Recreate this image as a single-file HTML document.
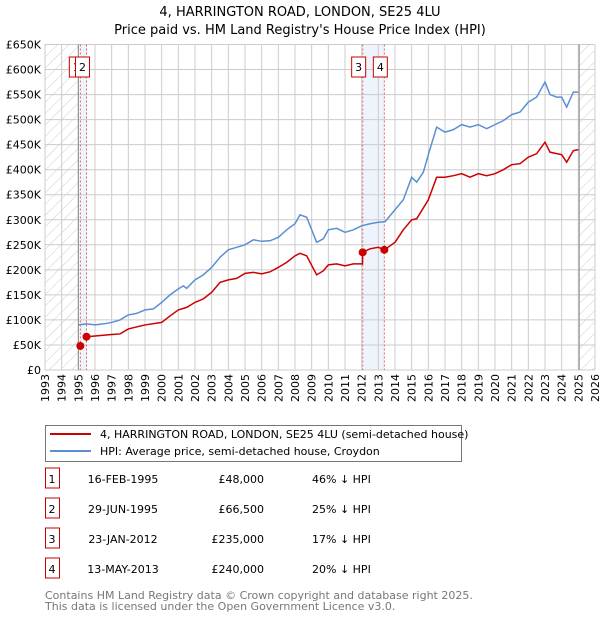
<!DOCTYPE html>
<html><head><meta charset="utf-8"><style>
body{margin:0;background:#fff;font-family:"DejaVu Sans","Liberation Sans",sans-serif;}
svg text{font-family:"DejaVu Sans","Liberation Sans",sans-serif;}
</style></head><body>
<svg id="c" width="600" height="620" xmlns="http://www.w3.org/2000/svg">
<defs><pattern id="h" width="8" height="8" patternUnits="userSpaceOnUse" patternTransform="rotate(45)"><line x1="0" y1="0" x2="0" y2="8" stroke="#ccc" stroke-width="1"/></pattern></defs>
<text x="300" y="16" text-anchor="middle" font-size="13">4, HARRINGTON ROAD, LONDON, SE25 4LU</text>
<text x="300" y="34" text-anchor="middle" font-size="13">Price paid vs. HM Land Registry's House Price Index (HPI)</text>
<g id="plot"></g>
<g>
<rect x="45.5" y="425.5" width="416" height="36" fill="#fff" stroke="#777"/>
<line x1="50" y1="434" x2="91" y2="434" stroke="#cc0000" stroke-width="2"/>
<text x="100" y="438" font-size="11">4, HARRINGTON ROAD, LONDON, SE25 4LU (semi-detached house)</text>
<line x1="50" y1="451" x2="91" y2="451" stroke="#5b8fd4" stroke-width="2"/>
<text x="100" y="455" font-size="11">HPI: Average price, semi-detached house, Croydon</text>
</g>
<g id="tbl" font-size="11"></g>
<text x="45" y="599" font-size="11" fill="#777">Contains HM Land Registry data © Crown copyright and database right 2025.</text>
<text x="45" y="610" font-size="11" fill="#777">This data is licensed under the Open Government Licence v3.0.</text>
</svg>
<script>
const hpiYears=[1995,1995.5,1996,1996.5,1997,1997.5,1998,1998.5,1999,1999.5,2000,2000.5,2001,2001.3,2001.5,2002,2002.5,2003,2003.5,2004,2004.5,2005,2005.5,2006,2006.5,2007,2007.5,2008,2008.3,2008.7,2009.3,2009.7,2010,2010.5,2011,2011.5,2012,2012.5,2013,2013.4,2014,2014.5,2015,2015.3,2015.7,2016,2016.5,2017,2017.5,2018,2018.5,2019,2019.5,2020,2020.5,2021,2021.5,2022,2022.5,2023,2023.3,2023.7,2024,2024.3,2024.7,2025];
const hpiValues=[90,92,90,92,95,100,110,113,120,122,135,150,162,168,163,180,190,205,225,240,245,250,260,257,258,265,280,292,310,305,255,262,280,283,275,280,288,292,295,296,320,340,385,375,395,430,485,475,480,490,485,490,482,490,498,510,515,535,545,575,550,545,545,525,555,555];
const priceYears=[1995.49,1996,1997,1997.5,1998,1999,2000,2000.5,2001,2001.5,2002,2002.5,2003,2003.5,2004,2004.5,2005,2005.5,2006,2006.5,2007,2007.5,2008,2008.3,2008.7,2009.3,2009.7,2010,2010.5,2011,2011.5,2012.05,2012.06,2012.5,2013,2013.36,2014,2014.5,2015,2015.3,2016,2016.5,2017,2017.5,2018,2018.5,2019,2019.5,2020,2020.5,2021,2021.5,2022,2022.5,2023,2023.3,2023.7,2024,2024.3,2024.7,2025];
const priceValues=[66.5,68,71,72,82,90,95,108,120,125,135,142,155,175,180,183,193,195,192,196,205,215,228,233,228,190,198,210,212,208,212,212,235,242,245,240,255,280,300,302,340,385,385,388,392,385,392,388,392,400,410,412,425,432,455,435,432,430,415,438,440];
const saleYears=[1995.12,1995.49,2012.06,2013.36];
const saleValues=[48,66.5,235,240];
const saleLabels=["1","2","3","4"];
const saleDates=["16-FEB-1995","29-JUN-1995","23-JAN-2012","13-MAY-2013"];
const salePrices=["£48,000","£66,500","£235,000","£240,000"];
const saleDiffs=["46% ↓ HPI","25% ↓ HPI","17% ↓ HPI","20% ↓ HPI"];
const yTicks=[0,50,100,150,200,250,300,350,400,450,500,550,600,650];
const yTickLabels=["£0","£50K","£100K","£150K","£200K","£250K","£300K","£350K","£400K","£450K","£500K","£550K","£600K","£650K"];
const xTicks=[1993,1994,1995,1996,1997,1998,1999,2000,2001,2002,2003,2004,2005,2006,2007,2008,2009,2010,2011,2012,2013,2014,2015,2016,2017,2018,2019,2020,2021,2022,2023,2024,2025,2026];

const NS="http://www.w3.org/2000/svg";
const X0=45,X1=595,Y0=370,Y1=44.5;
const xs=y=>X0+(y-1993)/(2026-1993)*(X1-X0);
const ys=v=>Y0-(v/650)*(Y0-Y1);
const plot=document.getElementById('plot');
function mk(t,a,p){const e=document.createElementNS(NS,t);for(const k in a)e.setAttribute(k,a[k]);(p||plot).appendChild(e);return e;}
let e=mk('rect',{x:X0,y:Y1,width:xs(1995)-X0,height:Y0-Y1,fill:'url(#h)'});


e=mk('rect',{x:xs(2025.05),y:Y1,width:X1-xs(2025.05),height:Y0-Y1,fill:'url(#h)'});


e=mk('rect',{x:xs(saleYears[0]),y:Y1,width:xs(saleYears[1])-xs(saleYears[0]),height:Y0-Y1,fill:'#eef3fc'});


e=mk('rect',{x:xs(saleYears[2]),y:Y1,width:xs(saleYears[3])-xs(saleYears[2]),height:Y0-Y1,fill:'#eef3fc'});


xTicks.forEach(t=>{const g=mk('line',{x1:xs(t),x2:xs(t),y1:Y1,y2:Y0,stroke:'#ccc','stroke-width':1});


const l=mk('text',{x:0,y:0,'font-size':11,'text-anchor':'end',transform:`translate(${xs(t)+4},${Y0+4}) rotate(-90)`});l.textContent=t;

});
yTicks.forEach((t,i)=>{const g=mk('line',{x1:X0,x2:X1,y1:ys(t),y2:ys(t),stroke:'#ccc','stroke-width':1});


const l=mk('text',{x:X0-4,y:ys(t)+4,'font-size':11,'text-anchor':'end'});l.textContent=yTickLabels[i];

});
e=mk('line',{x1:xs(1995),x2:xs(1995),y1:Y1,y2:Y0,stroke:'#888','stroke-width':1});


e=mk('line',{x1:xs(2025.05),x2:xs(2025.05),y1:Y1,y2:Y0,stroke:'#888','stroke-width':1});


saleYears.forEach((s,i)=>{const l=mk('line',{x1:xs(s),x2:xs(s),y1:Y1,y2:Y0,stroke:'#e06060','stroke-width':1,'stroke-dasharray':'2,2'});

});
e=mk('polyline',{points:hpiYears.map((y,i)=>xs(y)+','+ys(hpiValues[i])).join(' '),fill:'none',stroke:'#5b8fd4','stroke-width':1.5});


e=mk('polyline',{points:priceYears.map((y,i)=>xs(y)+','+ys(priceValues[i])).join(' '),fill:'none',stroke:'#cc0000','stroke-width':1.5});


saleYears.forEach((s,i)=>{const c=mk('circle',{cx:xs(s),cy:ys(saleValues[i]),r:4,fill:'#cc0000'});


const bx=xs(s)-11;
const r=mk('rect',{x:bx,y:57,width:14,height:20,fill:'#fff',stroke:'#cc0000'});


const t=mk('text',{x:bx+7,y:71,'font-size':11,'text-anchor':'middle'});t.textContent=saleLabels[i];

});
const tbl=document.getElementById('tbl');
saleLabels.forEach((lab,i)=>{const y=483+i*30;
const r=mk('rect',{x:45.5,y:y-15,width:14,height:20,fill:'#fff',stroke:'#cc0000'},tbl);


const vals=[[52,lab,'middle'],[123,saleDates[i],'middle'],[264,salePrices[i],'end'],[312,saleDiffs[i],'start']];
vals.forEach(v=>{const t=mk('text',{x:v[0],y:y,'text-anchor':v[2]},tbl);t.textContent=v[1];

});});
</script>
</body></html>
